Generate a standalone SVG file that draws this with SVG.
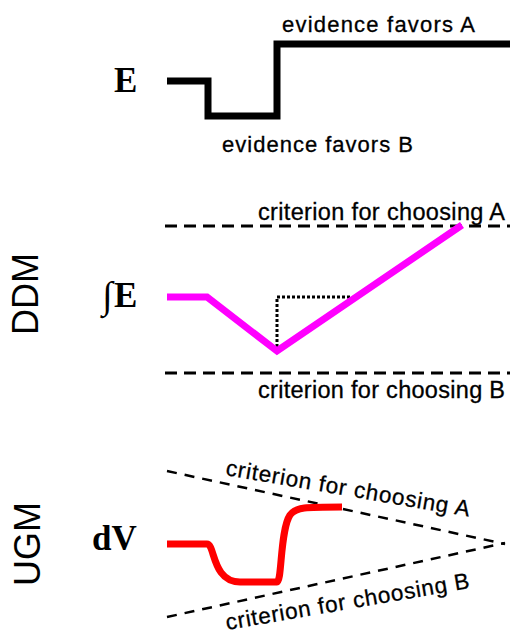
<svg xmlns="http://www.w3.org/2000/svg" width="510" height="634" viewBox="0 0 510 634">
<style>
.lbl{font-family:"Liberation Sans",Arial,sans-serif;fill:#000;stroke:#000;stroke-width:0.3}
.math{font-family:"Liberation Serif","Times New Roman",serif;font-weight:bold;fill:#000}
.side{font-family:"Liberation Sans",Arial,sans-serif;font-size:36px;fill:#000}
.dash{fill:none;stroke:#000;stroke-width:3;stroke-dasharray:12 7}
.dash2{fill:none;stroke:#000;stroke-width:2.5;stroke-dasharray:10 8}
</style>
<rect width="510" height="634" fill="#fff"/>
<g id="panel-E">
  <text class="math" x="114" y="92" font-size="35">E</text>
  <path d="M167,81 H208 V116 H277 V44 H510" fill="none" stroke="#000" stroke-width="7"/>
  <text class="lbl" x="282" y="32" font-size="22" textLength="193" lengthAdjust="spacing">evidence favors A</text>
  <text class="lbl" x="222" y="152" font-size="22" textLength="191" lengthAdjust="spacing">evidence favors B</text>
</g>
<g id="panel-DDM">
  <text class="side" transform="translate(38,294) rotate(-90)" text-anchor="middle">DDM</text>
  <text x="102" y="308" font-family="'Liberation Serif',serif" font-size="38">∫</text>
  <text class="math" x="114" y="307" font-size="35">E</text>
  <path class="dash" d="M165,226 H510"/>
  <path class="dash" d="M165,373 H510"/>
  <text class="lbl" x="258" y="220" font-size="23.5" textLength="247" lengthAdjust="spacing">criterion for choosing A</text>
  <text class="lbl" x="258" y="398" font-size="23.5" textLength="247" lengthAdjust="spacing">criterion for choosing B</text>
  <path d="M277,347 V297 H350" fill="none" stroke="#000" stroke-width="3" stroke-dasharray="3 2"/>
  <path d="M167,297 H207 L277,351 L462,225" fill="none" stroke="#ff00ff" stroke-width="7"/>
</g>
<g id="panel-UGM">
  <text class="side" transform="translate(40,544) rotate(-90)" text-anchor="middle">UGM</text>
  <text class="math" x="92" y="550" font-size="35">dV</text>
  <path class="dash2" d="M167,471 L505,544"/>
  <path class="dash2" d="M167,617 L505,543"/>
  <text class="lbl" transform="translate(225,475) rotate(9.7)" font-size="22.5" textLength="247" lengthAdjust="spacing">criterion for choosing A</text>
  <text class="lbl" transform="translate(227,630) rotate(-9.8)" font-size="22.5" textLength="247" lengthAdjust="spacing">criterion for choosing B</text>
  <path d="M167,544 H207 C215,544 212,582 240,582 H277 C282,582 280,530 290,515 C296,507 305,507 342,507" fill="none" stroke="#ff0000" stroke-width="7"/>
</g>
</svg>
